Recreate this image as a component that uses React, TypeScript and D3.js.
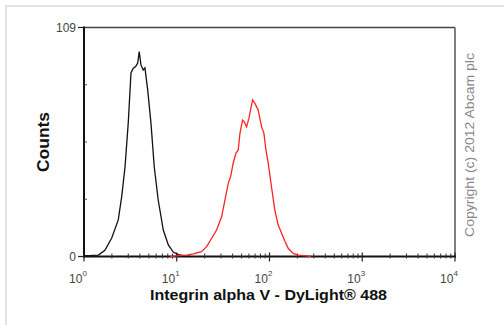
import React from "react";
import * as d3 from "d3";

const controlIntensity = [1.0, 1.2, 1.43, 1.68, 1.99, 2.34, 2.55, 2.77, 3.0, 3.21, 3.4, 3.6, 3.79, 3.94, 4.11, 4.35, 4.54, 4.86, 5.27, 5.72, 6.31, 7.16, 8.11, 9.17, 10.4, 12.3, 14.0];
const controlCounts = [0.4, 0.5, 0.7, 3, 8.8, 17.4, 28.5, 42.7, 63.6, 87.4, 89.6, 90.4, 92, 97.5, 91.2, 88.8, 89.8, 79.3, 63.6, 42.7, 26.9, 12.6, 5.5, 2.1, 0.9, 0.3, 0];

const stainedIntensity = [8.45, 10.5, 12.8, 15.1, 18.5, 21.0, 23.8, 26.9, 30.5, 33.1, 35.9, 38.1, 40.6, 43.4, 46.0, 48.0, 51.3, 53.4, 56.6, 60.0, 62.5, 65.7, 69.6, 75.5, 82.2, 87.1, 91.5, 96.9, 105, 114, 124, 135, 147, 159, 180, 204, 251, 280];
const stainedCounts = [0, 0.4, 0.7, 1.2, 2.3, 4.7, 8.7, 12.6, 19.0, 26.9, 34.8, 38.0, 44.4, 49.1, 50.7, 58.6, 64.9, 64.1, 61.7, 65.7, 69.8, 74.5, 72.9, 69.8, 61.7, 58.6, 50.7, 44.4, 33.3, 22.2, 15.1, 11.1, 7.1, 3.9, 1.5, 0.7, 0.3, 0];

const xMajorTicks = [1, 10, 100, 1000, 10000];
const xTickExponents = ["0", "1", "2", "3", "4"];
const yMax = 109;
const yTickLabels = ["0", "109"];

const xTitle = "Integrin alpha V - DyLight® 488";
const yTitle = "Counts";
const copyright = "Copyright (c) 2012 Abcam plc";

export default function App() {
  const W = 504, H = 325;
  const L = 84, R = 455, T = 27.5, B = 256.5;
  const x = d3.scaleLog().domain([1, 10000]).range([L, R]);
  const y = d3.scaleLinear().domain([0, yMax]).range([B, T]);

  const line = d3.line<[number, number]>().x(d => x(d[0])).y(d => y(d[1]));
  const ctrl = controlIntensity.map((v, i) => [v, controlCounts[i]] as [number, number]);
  const stn = stainedIntensity.map((v, i) => [v, stainedCounts[i]] as [number, number]);

  const minorTicks: number[] = [];
  for (let e = 0; e < 4; e++) {
    for (let m = 2; m <= 9; m++) minorTicks.push(m * Math.pow(10, e));
  }
  const yInner = [0.25, 0.5, 0.75].map(f => f * yMax);

  const font = "Liberation Sans, Arial, sans-serif";

  return (
    <svg width={W} height={H} style={{ position: "absolute", left: 0, top: 0, background: "#fff" }} fontFamily={font}>
      <rect x={0} y={0} width={W} height={H} fill="#fff" />
      <path d={`M6,${H + 2} L6,6 L${W + 2},6`} fill="none" stroke="#e2e2e2" strokeWidth={2} />

      {/* plot frame */}
      <line x1={L} y1={T} x2={R} y2={T} stroke="#444" strokeWidth={1.5} />
      <line x1={R} y1={T} x2={R} y2={B} stroke="#555" strokeWidth={1.5} />
      <line x1={L} y1={T - 1} x2={L} y2={B + 1} stroke="#111" strokeWidth={2} />
      <line x1={L - 1} y1={B} x2={R + 1} y2={B} stroke="#111" strokeWidth={2} />

      {/* y ticks */}
      <line x1={L - 6} y1={y(0)} x2={L} y2={y(0)} stroke="#222" strokeWidth={1.2} />
      <line x1={L - 6} y1={y(yMax)} x2={L} y2={y(yMax)} stroke="#222" strokeWidth={1.2} />
      {yInner.map((v, i) => (
        <line key={i} x1={L} y1={y(v)} x2={L + 3} y2={y(v)} stroke="#444" strokeWidth={1} />
      ))}
      <text x={L - 8} y={y(0) + 4.5} textAnchor="end" fontSize={12} fill="#444">{yTickLabels[0]}</text>
      <text x={L - 8} y={y(yMax) + 4.5} textAnchor="end" fontSize={12} fill="#444">{yTickLabels[1]}</text>

      {/* x ticks */}
      {minorTicks.map((v, i) => (
        <line key={i} x1={x(v)} y1={B - 3} x2={x(v)} y2={B + 2} stroke="#333" strokeWidth={1} />
      ))}
      {xMajorTicks.map((v, i) => (
        <g key={i}>
          <line x1={x(v)} y1={B - 4} x2={x(v)} y2={B + 5} stroke="#222" strokeWidth={1.2} />
          <text x={x(v) - 6} y={283} textAnchor="middle" fontSize={12} fill="#444">
            10<tspan dy={-7} fontSize={8}>{xTickExponents[i]}</tspan>
          </text>
        </g>
      ))}

      {/* curves */}
      <path d={line(ctrl) || ""} fill="none" stroke="#111" strokeWidth={1.3} />
      <path d={line(stn) || ""} fill="none" stroke="#ff2222" strokeWidth={1.3} />

      {/* titles */}
      <text x={268.5} y={300} textAnchor="middle" fontSize={14.5} fontWeight="bold" fill="#111" textLength={237} lengthAdjust="spacingAndGlyphs">{xTitle}</text>
      <text transform={`translate(49,142) rotate(-90)`} textAnchor="middle" fontSize={16} fontWeight="bold" fill="#111" textLength={60} lengthAdjust="spacingAndGlyphs">{yTitle}</text>
      <text transform={`translate(474,145) rotate(-90)`} textAnchor="middle" fontSize={13} fill="#888" textLength={184} lengthAdjust="spacingAndGlyphs">{copyright}</text>
    </svg>
  );
}
